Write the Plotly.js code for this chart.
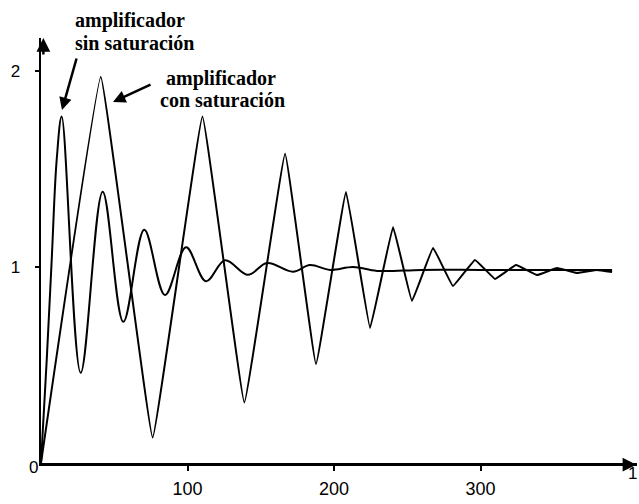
<!DOCTYPE html>
<html>
<head>
<meta charset="utf-8">
<script src="https://cdn.plot.ly/plotly-3.0.1.min.js"></script>
<style>html,body{margin:0;padding:0;background:#fff;}#chart{width:639px;height:504px;}</style>
</head>
<body>
<div id="chart"></div>
<script>
// Amplificador sin saturación (respuesta subamortiguada suave)
const tSin = [0, 3.9, 7.3, 10.7, 14.1, 27.1, 42.1, 56.2, 70.5, 84.6, 99.0, 112.6, 125.6, 141.3, 154.3, 172.0, 183.6, 197.3, 213.0, 229.4, 260, 300, 340, 389.8];
const ySin = [0, 0.525, 1.036, 1.546, 1.767, 0.46, 1.384, 0.72, 1.19, 0.857, 1.10, 0.927, 1.034, 0.96, 1.02, 0.976, 1.01, 0.985, 1.0, 0.98, 0.985, 0.985, 0.985, 0.985];

// Amplificador con saturación (oscilación triangular amortiguada)
const tCon = [0, 40.8, 76.2, 110.2, 138.8, 166.6, 187.7, 208.2, 224.6, 240.3, 253.2, 267.6, 281.2, 296.2, 309.9, 324.2, 338.6, 352.2, 365.9, 379.5, 389.8];
const yCon = [0, 1.97, 0.13, 1.767, 0.308, 1.577, 0.505, 1.383, 0.689, 1.204, 0.827, 1.097, 0.903, 1.036, 0.939, 1.01, 0.959, 0.995, 0.969, 0.985, 0.974];

// Ejes
const xTicks = [100, 200, 300];
const xTickText = ['100', '200', '300'];
const yTicks = [1, 2];
const yTickText = ['1', '2'];
const xRange = [0, 406.8];
const yRange = [0, 2.168];

// Rótulos
const labelSin = ['amplificador', 'sin saturación'];
const labelCon = ['amplificador', 'con saturación'];

const serif = 'Liberation Serif, Times New Roman, serif';
const sans = 'Liberation Sans, Arial, sans-serif';

const traces = [
  {x: tSin, y: ySin, type: 'scatter', mode: 'lines', line: {color: '#000', width: 2, shape: 'spline', smoothing: 1}, hoverinfo: 'skip', showlegend: false},
  {x: tCon, y: yCon, type: 'scatter', mode: 'lines', line: {color: '#000', width: 2, shape: 'spline', smoothing: 0.2}, hoverinfo: 'skip', showlegend: false}
];

const axisCommon = {showgrid: false, zeroline: false, showline: true, linecolor: '#000', linewidth: 2.5, tickcolor: '#000', tickwidth: 2, fixedrange: true};

const boldFont = {family: serif, size: 20, color: '#000', weight: 'bold'};
function txt(x, y, text, anchor) {
  return {xref: 'paper', yref: 'paper', x: x, y: y, xanchor: anchor, yanchor: 'middle', showarrow: false, text: text, font: boldFont};
}

const layout = {
  width: 639, height: 504,
  margin: {l: 41, r: 2, t: 38, b: 41, pad: 0},
  paper_bgcolor: '#fff', plot_bgcolor: '#fff',
  showlegend: false,
  xaxis: Object.assign({}, axisCommon, {range: xRange, tickmode: 'array', tickvals: xTicks, ticktext: xTickText, ticks: 'outside', ticklen: 5, ticklabelstandoff: 3, tickfont: {family: sans, size: 18, color: '#000'}}),
  yaxis: Object.assign({}, axisCommon, {range: yRange, tickmode: 'array', tickvals: yTicks, ticktext: yTickText, ticks: 'outside', ticklen: 4, ticklabelstandoff: 11, tickfont: {family: sans, size: 17, color: '#000'}}),
  xaxis2: Object.assign({}, axisCommon, {overlaying: 'x', anchor: 'y', side: 'bottom', range: xRange, tickmode: 'array', tickvals: xTicks, ticks: 'inside', ticklen: 5, showticklabels: false}),
  yaxis2: Object.assign({}, axisCommon, {overlaying: 'y', anchor: 'x', side: 'left', range: yRange, tickmode: 'array', tickvals: yTicks, ticks: 'inside', ticklen: 9, showticklabels: false}),
  annotations: [
    txt(0.0537, (463 - 21) / 425, labelSin[0], 'left'),
    txt(0.0537, (463 - 43) / 425, labelSin[1], 'left'),
    txt((221 - 41) / 596, (463 - 79) / 425, labelCon[0], 'center'),
    txt((222 - 41) / 596, (463 - 100) / 425, labelCon[1], 'center'),
    {xref: 'paper', yref: 'paper', x: 0.0352, y: 0.8306, text: '', showarrow: true, arrowhead: 2, arrowsize: 1, arrowwidth: 2.5, arrowcolor: '#000', ax: 15, ay: -53, standoff: 0},
    {xref: 'paper', yref: 'paper', x: 0.1208, y: 0.8494, text: '', showarrow: true, arrowhead: 2, arrowsize: 1, arrowwidth: 2.5, arrowcolor: '#000', ax: 39, ay: -18, standoff: 0},
    {xref: 'paper', yref: 'paper', x: 0.004, y: 1.0, text: '', showarrow: true, arrowhead: 2, arrowsize: 1.1, arrowwidth: 2.5, arrowcolor: '#000', ax: 0, ay: 18, standoff: 0},
    {xref: 'paper', yref: 'paper', x: 0.999, y: -0.004, text: '', showarrow: true, arrowhead: 2, arrowsize: 1.1, arrowwidth: 2.5, arrowcolor: '#000', ax: -18, ay: 0, standoff: 0},
    {xref: 'paper', yref: 'paper', x: -0.0134, y: -0.01, xanchor: 'center', yanchor: 'middle', showarrow: false, text: '0', font: {family: sans, size: 17, color: '#000'}},
    {xref: 'paper', yref: 'paper', x: 1, y: 0, xshift: 2, yshift: -10, xanchor: 'right', yanchor: 'middle', showarrow: false, text: '1', font: {family: sans, size: 17, color: '#000'}}
  ]
};

Plotly.newPlot('chart', traces, layout, {staticPlot: true, displayModeBar: false});
</script>
</body>
</html>
